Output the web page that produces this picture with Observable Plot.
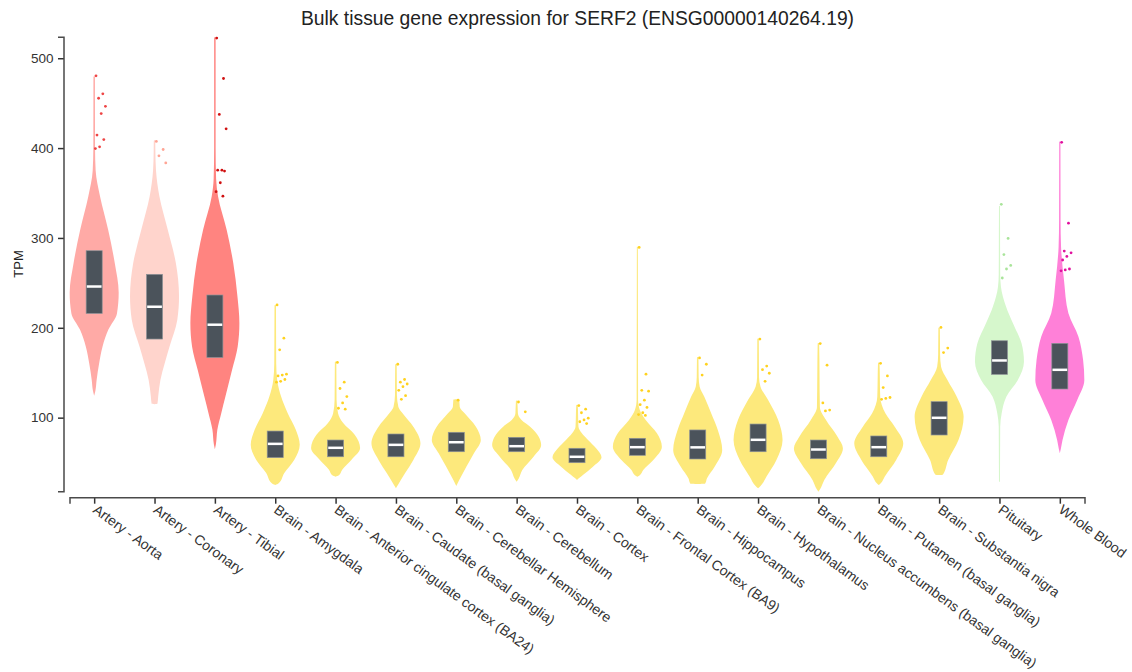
<!DOCTYPE html>
<html><head><meta charset="utf-8">
<script src="https://cdn.jsdelivr.net/npm/d3@7"></script>
<script src="https://cdn.jsdelivr.net/npm/@observablehq/plot@0.6"></script>
<style>body{margin:0;background:#fff;font-family:"Liberation Sans",Arial,sans-serif}</style>
</head><body><div id="chart"></div>
<script>
const title = "Bulk tissue gene expression for SERF2 (ENSG00000140264.19)";
const yLabel = "TPM";
const tissues = ["Artery - Aorta","Artery - Coronary","Artery - Tibial","Brain - Amygdala","Brain - Anterior cingulate cortex (BA24)","Brain - Caudate (basal ganglia)","Brain - Cerebellar Hemisphere","Brain - Cerebellum","Brain - Cortex","Brain - Frontal Cortex (BA9)","Brain - Hippocampus","Brain - Hypothalamus","Brain - Nucleus accumbens (basal ganglia)","Brain - Putamen (basal ganglia)","Brain - Substantia nigra","Pituitary","Whole Blood"];
const fillColors = ["#ffaaa6","#ffd4cc","#ff8480","#fde97c","#fde97c","#fde97c","#fde97c","#fde97c","#fde97c","#fde97c","#fde97c","#fde97c","#fde97c","#fde97c","#fde97c","#d6f7cc","#ff80d8"];
const dotColors = ["#ee4444","#ffa595","#d01010","#ffd21f","#ffd21f","#ffd21f","#ffd21f","#ffd21f","#ffd21f","#ffd21f","#ffd21f","#ffd21f","#ffd21f","#ffd21f","#ffd21f","#a9e49a","#e0109e"];
const q1s = [216,187.5,167,55.5,56.5,56.5,62.1,62.1,49.9,58.1,54,62.1,54.3,56.5,80.7,148.2,131.9];
const medians = [246.5,224,204,71.4,67,70.3,73.2,68.8,57,67.7,67.5,75.9,65.1,67.7,100.4,164.2,153.8];
const q3s = [285.8,259.5,236.5,85.1,75.1,81.8,83.7,78.1,65.9,77,86.3,92.9,75.1,79.6,117.8,185.6,182.7];
// violin outlines: [TPM, relative half-width]
const violinProfiles = [
  [[124.5,0],[130,0.05],[142,0.1],[160,0.2],[179,0.34],[198,0.58],[216,0.93],[239,1.0],[272,0.84],[309,0.57],[346,0.24],[375,0.06],[400,0.035],[479.5,0.03],[480,0]],
  [[115,0],[115.5,0.12],[123.5,0.15],[142,0.24],[160,0.41],[179,0.61],[209,0.93],[235,1.0],[272,0.87],[309,0.54],[346,0.2],[375,0.06],[395,0.035],[408,0.03],[409,0]],
  [[64.8,0],[70,0.04],[86.5,0.1],[105,0.26],[123.5,0.43],[153,0.7],[179,0.93],[205,1.0],[235,0.92],[272,0.75],[309,0.48],[346,0.13],[366,0.05],[400,0.03],[523,0.03],[523.3,0]],
  [[25,0],[27,0.14],[38.4,0.37],[53.2,0.78],[69.8,1.0],[86.5,0.84],[105,0.51],[123.5,0.24],[142,0.08],[160,0.04],[225,0.03],[225.5,0]],
  [[34.3,0],[35.5,0.12],[42,0.27],[53.2,0.65],[66.3,1.0],[81,0.78],[94,0.31],[105,0.1],[120,0.04],[162,0.03],[162.5,0]],
  [[21.4,0],[25,0.08],[38,0.37],[52.9,0.71],[71.4,1.0],[90,0.71],[104.8,0.27],[112,0.1],[125,0.04],[159.3,0.03],[159.8,0]],
  [[24,0],[30.6,0.12],[45.4,0.41],[60.3,0.72],[75.1,1.0],[90,0.8],[104.8,0.34],[112,0.14],[120,0.12],[120.4,0]],
  [[28.7,0],[32,0.08],[41.7,0.23],[56.5,0.69],[69.6,1.0],[78.8,0.9],[90,0.55],[97.4,0.2],[105,0.05],[118.5,0.03],[119,0]],
  [[30.6,0],[33,0.1],[36.2,0.24],[45.4,0.65],[55.9,1.0],[65.9,0.78],[75.1,0.45],[82.6,0.2],[90,0.06],[114.1,0.03],[114.5,0]],
  [[34.3,0],[36,0.1],[41.7,0.24],[52.9,0.65],[67.7,1.0],[82.6,0.8],[97.4,0.34],[108.5,0.1],[120,0.03],[290.3,0.02],[290.6,0]],
  [[26.2,0],[26.4,0.3],[32.5,0.38],[45.4,0.69],[64,1.0],[86.3,0.82],[104.8,0.55],[123.3,0.27],[134.5,0.08],[145,0.04],[167.2,0.03],[167.5,0]],
  [[21.4,0],[24,0.1],[34.3,0.34],[52.9,0.75],[75.1,1.0],[97.4,0.82],[119.6,0.41],[134.5,0.1],[145,0.04],[187.9,0.03],[188.2,0]],
  [[17.6,0],[20,0.06],[30.6,0.24],[49.2,0.71],[65.9,1.0],[78.8,0.78],[97.4,0.31],[112,0.06],[182.7,0.03],[183,0]],
  [[25,0],[27,0.08],[34.3,0.24],[52.9,0.71],[71.4,1.0],[90,0.65],[104.8,0.27],[123.3,0.06],[161.2,0.03],[161.5,0]],
  [[36.2,0],[36.5,0.15],[52.9,0.37],[75.1,0.79],[101,1.0],[123.3,0.72],[141.9,0.34],[156.7,0.08],[170,0.04],[200.1,0.03],[200.4,0]],
  [[28.7,0],[29,0.02],[90,0.03],[104.8,0.09],[123.3,0.28],[141.9,0.75],[162.3,1.0],[182.7,0.9],[205,0.55],[223.5,0.27],[245.8,0.06],[260,0.03],[335.6,0.02],[335.9,0]],
  [[60.3,0],[65,0.04],[75.1,0.11],[97.4,0.35],[119.6,0.71],[141.9,1.0],[164.2,0.95],[190.1,0.76],[216.1,0.35],[253.2,0.17],[290.3,0.05],[320,0.03],[407.1,0.025],[407.4,0]]
];
const outliers = [
  [481,461,456,447,439,415,410,402,400],
  [408,399,392,384],
  [523,478,438,422,376,376,375,362,352,347],
  [226,189,176,149,148,147,143,141,140],
  [162,140,133,124,117,111,110],
  [160,143,140,138,135,131,125,121],
  [120],
  [118,107],
  [114,110,106,100,98,96,94],
  [290,149,131,130,120,115,112,106,104,103],
  [167,160,148],
  [188,158,154,150,141],
  [183,159,117,109,108],
  [161,147,134,123,122,121],
  [201,178,173],
  [338,300,282,270,266,256],
  [407,317,286,284,280,276,266,265,264]
];
const yTicks = [100,200,300,400,500];
const yDomain = [17.6, 523.3];

const K = 0.406;      // max violin half-width, in category units
const BOX = 0.133;    // box half-width
const MED = 0.122;    // median line half-width

const violinRows = violinProfiles.flatMap((prof, i) =>
  prof.map(([v, w]) => ({i, tissue: tissues[i], value: v, w, fill: fillColors[i]})));
const boxRows = tissues.map((t, i) => ({i, tissue: t, q1: q1s[i], q3: q3s[i], median: medians[i]}));
const jitter = j => ((j * 0.618034 + 0.12) % 1) * 0.45;
const dotRows = outliers.flatMap((vals, i) =>
  vals.map((v, j) => ({i, value: v, x: i + jitter(j) * K, color: dotColors[i]})));

const axisLines = (index, scales, values, dim) => {
  const left = dim.marginLeft, right = dim.width - dim.marginRight;
  const top = dim.marginTop, bottom = dim.height - dim.marginBottom;
  const g = d3.create("svg:g").attr("fill", "none").attr("stroke", "#4a4a4a").attr("stroke-width", 1.5);
  g.append("path").attr("d", `M${left - 6},${top}H${left}V${bottom - 6}H${left - 6}`);
  g.append("path").attr("d", `M${left + 6},${bottom + 6}V${bottom}H${right - 5}V${bottom + 6}`);
  return g.node();
};

const chart = Plot.plot({
  width: 1132,
  height: 672,
  marginTop: 37.3,
  marginBottom: 174.3,
  marginLeft: 64,
  marginRight: 42,
  style: {fontFamily: '"Liberation Sans", Arial, sans-serif', color: "#333", background: "#fff"},
  x: {domain: [-0.5, tissues.length - 0.5]},
  y: {domain: yDomain, insetBottom: 6},
  marks: [
    Plot.areaX(violinRows, {y: "value", x1: d => d.i - d.w * K, x2: d => d.i + d.w * K, z: "tissue", fill: "fill", curve: "monotone-y"}),
    Plot.rect(boxRows, {x1: d => d.i - BOX, x2: d => d.i + BOX, y1: "q1", y2: "q3", fill: "#4b535b", stroke: "#8d9297", strokeWidth: 0.7}),
    Plot.ruleY(boxRows, {y: "median", x1: d => d.i - MED, x2: d => d.i + MED, stroke: "#ffffff", strokeWidth: 2.5}),
    Plot.dot(dotRows, {x: "x", y: "value", r: 1.4, fill: "color", stroke: null}),
    Plot.axisY({ticks: yTicks, tickSize: 6, tickPadding: 5, fontSize: 13.5, strokeWidth: 1.5, label: null}),
    Plot.axisX({ticks: d3.range(tissues.length), tickFormat: i => tissues[i], tickRotate: 36, tickSize: 6, tickPadding: 4, fontSize: 14, strokeWidth: 1.5, label: null}),
    axisLines,
    Plot.text([title], {text: d => d, frameAnchor: "top", lineAnchor: "middle", dy: -19, fontSize: 19.3, fill: "#222"}),
    Plot.text([yLabel], {text: d => d, frameAnchor: "left", textAnchor: "middle", lineAnchor: "middle", dx: -46, dy: -4, rotate: -90, fontSize: 13, fill: "#222"})
  ]
});
document.getElementById("chart").append(chart);
</script>
</body></html>
